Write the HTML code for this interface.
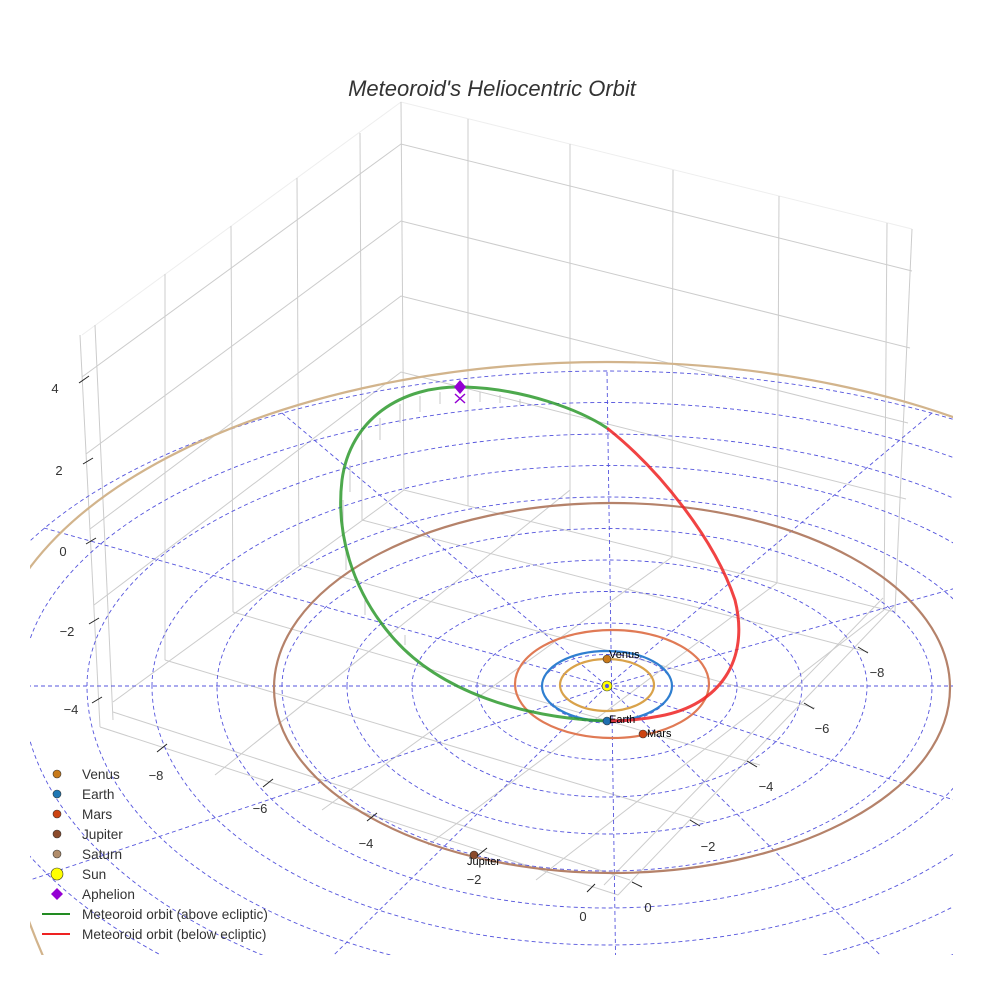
<!DOCTYPE html>
<html><head><meta charset="utf-8"><style>
html,body{margin:0;padding:0;background:#fff;width:984px;height:984px;overflow:hidden}
svg{display:block}
text{font-family:"Liberation Sans",sans-serif}
</style></head><body>
<svg width="984" height="984" viewBox="0 0 984 984" xmlns="http://www.w3.org/2000/svg">
<defs><clipPath id="c"><rect x="30" y="0" width="923" height="955"/></clipPath></defs>
<rect width="984" height="984" fill="#fff"/>
<text x="492" y="96" text-anchor="middle" font-size="22" font-style="italic" fill="#333">Meteoroid's Heliocentric Orbit</text>

<g stroke="#ccc" stroke-width="1" fill="none">
<polyline points="82,335 401,102 912,229" stroke="#eee"/>
<polyline points="82,377 401,144 912,271"/>
<polyline points="86,454 401,221 910,348"/>
<polyline points="90,529 401,296 908,423"/>
<polyline points="94,605 401,372 906,499"/>
<polyline points="113,702 404,490 895,612"/>
<line x1="80" y1="335" x2="100" y2="727"/>
<line x1="95" y1="325" x2="113" y2="720"/>
<line x1="165" y1="274" x2="165" y2="660"/>
<line x1="231" y1="226" x2="233" y2="612"/>
<line x1="297" y1="178" x2="299" y2="565"/>
<line x1="360" y1="133" x2="362" y2="520"/>
<line x1="401" y1="102" x2="404" y2="490"/>
<line x1="468" y1="119" x2="468" y2="506"/>
<line x1="570" y1="144" x2="570" y2="531"/>
<line x1="673" y1="170" x2="672" y2="557"/>
<line x1="779" y1="196" x2="777" y2="583"/>
<line x1="887" y1="223" x2="884" y2="610"/>
<line x1="912" y1="229" x2="895" y2="612"/>
<line x1="100" y1="727" x2="618" y2="895"/>
<line x1="113" y1="712" x2="630" y2="880"/>
<line x1="618" y1="895" x2="895" y2="605"/>
<line x1="604" y1="885" x2="883" y2="598"/>
<line x1="165" y1="660" x2="705" y2="822"/>
<line x1="233" y1="612" x2="760" y2="765"/>
<line x1="299" y1="565" x2="815" y2="708"/>
<line x1="362" y1="520" x2="868" y2="652"/>
<line x1="215" y1="775" x2="570" y2="490"/>
<line x1="322" y1="810" x2="672" y2="557"/>
<line x1="428" y1="845" x2="777" y2="583"/>
<line x1="536" y1="880" x2="884" y2="610"/>
</g>

<g clip-path="url(#c)">
<g stroke="#5555dd" stroke-width="0.9" fill="none" stroke-dasharray="4,3">
<path d="M542,686 A65,31.5 0 0 1 672,686 A65,37 0 0 1 542,686"/>
<path d="M477,686 A130,63 0 0 1 737,686 A130,74 0 0 1 477,686"/>
<path d="M412,686 A195,94.5 0 0 1 802,686 A195,111 0 0 1 412,686"/>
<path d="M347,686 A260,126 0 0 1 867,686 A260,148 0 0 1 347,686"/>
<path d="M282,686 A325,157.5 0 0 1 932,686 A325,185 0 0 1 282,686"/>
<path d="M217,686 A390,189 0 0 1 997,686 A390,222 0 0 1 217,686"/>
<path d="M152,686 A455,220.5 0 0 1 1062,686 A455,259 0 0 1 152,686"/>
<path d="M87,686 A520,252 0 0 1 1127,686 A520,296 0 0 1 87,686"/>
<path d="M22,686 A585,283.5 0 0 1 1192,686 A585,333 0 0 1 22,686"/>
<path d="M-43,686 A650,315 0 0 1 1257,686 A650,370 0 0 1 -43,686"/>
<line x1="-43" y1="686" x2="1257" y2="686"/>
<line x1="607" y1="372" x2="617" y2="1056"/>
<line x1="1170" y1="528" x2="607" y2="686"/><line x1="607" y1="686" x2="30" y2="880"/>
<line x1="932" y1="413" x2="607" y2="686"/><line x1="607" y1="686" x2="282" y2="1006"/>
<line x1="282" y1="413" x2="607" y2="686"/><line x1="607" y1="686" x2="932" y2="1006"/>
<line x1="44" y1="528" x2="607" y2="686"/><line x1="607" y1="686" x2="1170" y2="871"/>
</g>
<g fill="none" stroke-width="2.2">
<path d="M-13,686 A620,324 0 0 1 1227,686 A620,650 0 0 1 -13,686" stroke="#d2b48c"/>
<ellipse cx="612" cy="688" rx="338" ry="185" stroke="#b5826a"/>
<ellipse cx="612" cy="684" rx="97" ry="54" stroke="#e07a55"/>
<ellipse cx="607" cy="686" rx="65" ry="35" stroke="#2f7fd0"/>
<ellipse cx="607" cy="685" rx="47" ry="26" stroke="#d9a24a"/>
</g>
</g>

<g stroke="#bbb" stroke-width="0.8">
<line x1="440" y1="392" x2="440" y2="404"/><line x1="420" y1="396" x2="420" y2="412"/>
<line x1="400" y1="404" x2="400" y2="423"/><line x1="380" y1="418" x2="380" y2="440"/>
<line x1="362" y1="440" x2="362" y2="465"/><line x1="350" y1="465" x2="350" y2="492"/>
<line x1="343" y1="500" x2="343" y2="525"/><line x1="346" y1="550" x2="346" y2="570"/>
<line x1="365" y1="600" x2="365" y2="615"/><line x1="405" y1="635" x2="405" y2="645"/>
<line x1="480" y1="392" x2="480" y2="402"/><line x1="500" y1="395" x2="500" y2="403"/>
<line x1="520" y1="399" x2="520" y2="405"/>
</g>

<path d="M607,721 C520,718 440,690 395,640 C350,590 336,530 342,480 C350,420 400,385 465,387 C525,389 580,410 607,428" fill="none" stroke="#2e9a2e" stroke-width="3" stroke-opacity="0.85"/>
<path d="M607,428 C660,470 715,540 735,600 C750,660 720,705 660,716 C640,720 620,721 607,721" fill="none" stroke="#ee2222" stroke-width="3" stroke-opacity="0.85"/>

<g stroke="#333" stroke-width="0.6">
<circle cx="607" cy="686" r="5" fill="#ffff00"/>
<circle cx="607" cy="686" r="2" fill="#5555dd" stroke="none"/>
<circle cx="607" cy="659" r="4" fill="#c87a1a"/>
<circle cx="607" cy="721" r="4" fill="#1f6fb0"/>
<circle cx="643" cy="734" r="4" fill="#cc4411"/>
<circle cx="474" cy="855" r="4" fill="#8b4a2b"/>
</g>
<path d="M460,380 L466,387 L460,394 L454,387 Z" fill="#9400d3"/>
<path d="M455,394 L465,403 M465,394 L455,403" stroke="#9400d3" stroke-width="1.5"/>
<g font-size="11" fill="#000">
<text x="609" y="658">Venus</text><text x="609" y="723">Earth</text>
<text x="647" y="737">Mars</text><text x="467" y="865">Jupiter</text>
</g>

<g stroke="#222" stroke-width="1">
<line x1="79" y1="383" x2="89" y2="376"/><line x1="83" y1="464" x2="93" y2="458"/>
<line x1="86" y1="544" x2="96" y2="538"/><line x1="89" y1="624" x2="99" y2="618"/>
<line x1="92" y1="703" x2="102" y2="697"/>
<line x1="157" y1="752" x2="167" y2="744"/><line x1="263" y1="787" x2="273" y2="779"/>
<line x1="367" y1="821" x2="377" y2="813"/><line x1="477" y1="856" x2="487" y2="848"/>
<line x1="587" y1="892" x2="595" y2="884"/>
<line x1="632" y1="882" x2="642" y2="887"/><line x1="690" y1="820" x2="700" y2="826"/>
<line x1="747" y1="761" x2="757" y2="767"/><line x1="804" y1="703" x2="814" y2="709"/>
<line x1="858" y1="647" x2="868" y2="653"/>
</g>
<g font-size="13" fill="#333" text-anchor="middle">
<text x="55" y="393">4</text><text x="59" y="475">2</text><text x="63" y="556">0</text>
<text x="67" y="636">−2</text><text x="71" y="714">−4</text>
<text x="156" y="780">−8</text><text x="260" y="813">−6</text><text x="366" y="848">−4</text>
<text x="474" y="884">−2</text><text x="583" y="921">0</text>
<text x="648" y="912">0</text><text x="708" y="851">−2</text><text x="766" y="791">−4</text>
<text x="822" y="733">−6</text><text x="877" y="677">−8</text>
</g>

<g stroke="#333" stroke-width="0.6">
<circle cx="57" cy="774" r="4" fill="#c87a1a"/>
<circle cx="57" cy="794" r="4" fill="#1f77b4"/>
<circle cx="57" cy="814" r="4" fill="#cc4411"/>
<circle cx="57" cy="834" r="4" fill="#8b4a2b"/>
<circle cx="57" cy="854" r="4" fill="#b08c6a"/>
<circle cx="57" cy="874" r="6" fill="#ffff00"/>
</g>
<path d="M57,888 L63,894 L57,900 L51,894 Z" fill="#9400d3"/>
<line x1="42" y1="914" x2="70" y2="914" stroke="#228b22" stroke-width="2"/>
<line x1="42" y1="934" x2="70" y2="934" stroke="#ee2222" stroke-width="2"/>
<g font-size="13.6" fill="#333">
<text x="82" y="779">Venus</text><text x="82" y="799">Earth</text><text x="82" y="819">Mars</text>
<text x="82" y="839">Jupiter</text><text x="82" y="859">Saturn</text><text x="82" y="879">Sun</text>
<text x="82" y="899">Aphelion</text><text x="82" y="919">Meteoroid orbit (above ecliptic)</text>
<text x="82" y="939">Meteoroid orbit (below ecliptic)</text>
</g>
</svg>
</body></html>
